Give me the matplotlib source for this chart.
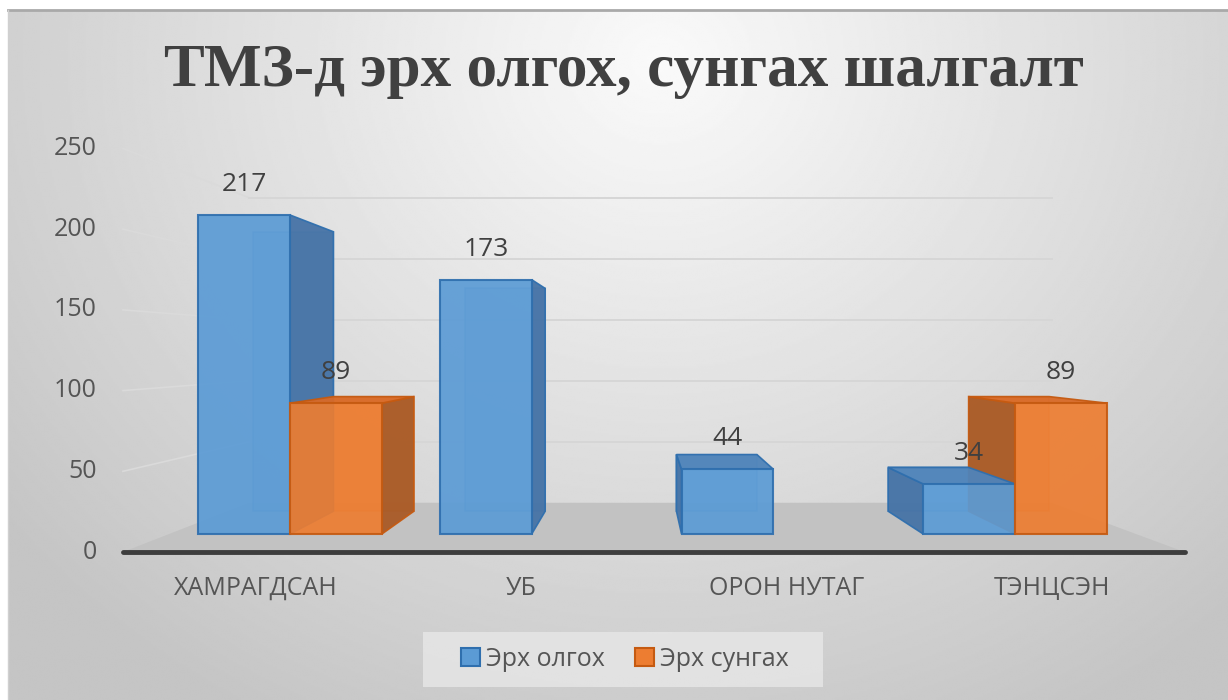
import numpy as np
import matplotlib.pyplot as plt
from matplotlib.patches import Polygon, Patch, Rectangle

# --- data ---
categories = ['ХАМРАГДСАН', 'УБ', 'ОРОН НУТАГ', 'ТЭНЦСЭН']
erkh_olgokh = [217, 173, 44, 34]
erkh_sungakh = [89, np.nan, np.nan, 89]
series_names = ['Эрх олгох', 'Эрх сунгах']
y_ticks = [0, 50, 100, 150, 200, 250]
title = 'ТМЗ-д эрх олгох, сунгах шалгалт'

# --- 3d look (one point perspective in data units) ---
W = 0.38            # bar width
XC, VC = 1.45, 125  # vanishing point
K_BACK = 0.876      # back of the bars
K_FLOOR = 1.098     # front edge of floor
K_WALL = 0.83       # back wall

blue, blue_edge, blue_side, blue_top = '#5b9bd5', '#2f6fae', '#4673a6', '#4f84ba'
orange, orange_edge, orange_side, orange_top = '#ed7d31', '#c55a11', '#a95a26', '#d96a27'
sans = ['Open Sans', 'DejaVu Sans']


def proj(x, v, k):
    return (XC + k * (x - XC), VC + k * (v - VC))


def cuboid(ax, x0, x1, v, face, edge, side, top):
    kb = K_BACK
    back = [proj(x0, 0, kb), proj(x1, 0, kb), proj(x1, v, kb), proj(x0, v, kb)]
    ax.add_patch(Polygon(back, closed=True, facecolor=face, edgecolor=edge,
                         alpha=0.35, lw=1.2, zorder=3))
    # outer side face
    if x1 <= XC:
        sx = x1
    elif x0 >= XC:
        sx = x0
    else:
        sx = None
    if sx is not None:
        pts = [proj(sx, 0, 1), proj(sx, 0, kb), proj(sx, v, kb), proj(sx, v, 1)]
        ax.add_patch(Polygon(pts, closed=True, facecolor=side, edgecolor=edge,
                             alpha=0.95, lw=1.2, zorder=4))
    # top face (only seen when below eye level)
    if v < VC:
        pts = [proj(x0, v, 1), proj(x1, v, 1), proj(x1, v, kb), proj(x0, v, kb)]
        ax.add_patch(Polygon(pts, closed=True, facecolor=top, edgecolor=edge,
                             alpha=0.95, lw=1.2, zorder=5))


fig = plt.figure(figsize=(12.28, 7), dpi=100)

# background with soft radial gradient
bg = fig.add_axes([0, 0, 1, 1], zorder=-2)
bg.set_xlim(0, 1228)
bg.set_ylim(700, 0)
bg.axis('off')
gx, gy = np.meshgrid(np.linspace(8, 1228, 600), np.linspace(10, 700, 350))
dist = np.sqrt((gx - 660) ** 2 + ((gy - 60) / 0.9) ** 2)
shade = np.clip(0.98 - dist / 800 * 0.2, 0.77, 0.98)
bg.imshow(shade, cmap='gray', vmin=0, vmax=1, extent=[8, 1228, 700, 10],
          aspect='auto', interpolation='bilinear')
bg.plot([8, 1228], [10, 10], color='#a9a9a9', lw=2)
bg.plot([8, 8], [10, 700], color='#d0d0d0', lw=1)
# legend box
bg.add_patch(Rectangle((423, 632), 400, 55, facecolor='#e9e9e9', edgecolor='none', alpha=0.75))

ax = fig.add_axes([0, 0, 1, 1])
ax.set_xlim(-290 / 241.7, (1228 - 290) / 241.7)
ax.set_ylim((534 - 700) / 1.47, 534 / 1.47)
ax.axis('off')

x = np.arange(len(categories))
x_left, x_right = -0.5, len(categories) - 0.5

# gridlines: left wall + back wall
for t in y_ticks[1:]:
    p0 = proj(x_left, t, K_FLOOR)
    p1 = proj(x_left, t, K_WALL)
    p2 = proj(x_right, t, K_WALL)
    ax.plot([p0[0], p1[0]], [p0[1], p1[1]], color='#dadada', lw=1.2, zorder=1)
    ax.plot([p1[0], p2[0]], [p1[1], p2[1]], color='#d6d6d6', lw=1.4, zorder=1)

# floor
floor = [proj(x_left, 0, K_FLOOR), proj(x_right, 0, K_FLOOR),
         proj(x_right, 0, K_WALL), proj(x_left, 0, K_WALL)]
ax.add_patch(Polygon(floor, closed=True, facecolor='#c2c2c2', edgecolor='none', zorder=2))
f0, f1 = proj(x_left, 0, K_FLOOR), proj(x_right, 0, K_FLOOR)
ax.plot([f0[0], f1[0]], [f0[1], f1[1]], color='#3d3d3d', lw=3.5,
        solid_capstyle='round', zorder=2.5)

# bars
for i in range(len(categories)):
    cuboid(ax, x[i] - W, x[i], erkh_olgokh[i], blue, blue_edge, blue_side, blue_top)
    if not np.isnan(erkh_sungakh[i]):
        cuboid(ax, x[i], x[i] + W, erkh_sungakh[i], orange, orange_edge, orange_side, orange_top)

ax.bar(x - W, erkh_olgokh, W, align='edge', color=blue, edgecolor=blue_edge,
       lw=1.5, alpha=0.92, zorder=6)
ax.bar(x, erkh_sungakh, W, align='edge', color=orange, edgecolor=orange_edge,
       lw=1.5, alpha=0.92, zorder=6)

# data labels
for i in range(len(categories)):
    ax.annotate(str(erkh_olgokh[i]), (x[i] - W / 2, erkh_olgokh[i]), xytext=(0, 22),
                textcoords='offset points', ha='center', va='center',
                fontsize=19, color='#404040', family=sans, zorder=7)
    if not np.isnan(erkh_sungakh[i]):
        ax.annotate(str(int(erkh_sungakh[i])), (x[i] + W / 2, erkh_sungakh[i]), xytext=(0, 22),
                    textcoords='offset points', ha='center', va='center',
                    fontsize=19, color='#404040', family=sans, zorder=7)

# value axis labels
for t in y_ticks:
    ax.annotate(str(t), proj(x_left, t, K_FLOOR), xytext=(-19, 0),
                textcoords='offset points', ha='right', va='center',
                fontsize=18, color='#555555', family=sans)

# category labels
for i, c in enumerate(categories):
    ax.annotate(c, proj(x[i], 0, K_FLOOR), xytext=(0, -26),
                textcoords='offset points', ha='center', va='center',
                fontsize=18, color='#555555', family=sans)

fig.text(0.508, 1 - 71 / 700, title, ha='center', va='center', fontsize=44,
         fontweight='bold', family=['Liberation Serif', 'DejaVu Serif'], color='#404040')

handles = [Patch(facecolor=blue, edgecolor=blue_edge, lw=1.5),
           Patch(facecolor=orange, edgecolor=orange_edge, lw=1.5)]
fig.legend(handles, series_names, loc='center', bbox_to_anchor=(0.509, 1 - 659.5 / 700),
           ncol=2, frameon=False, prop={'family': sans, 'size': 18},
           handlelength=0.75, handleheight=0.75, handletextpad=0.25,
           columnspacing=1.2, labelcolor='#555555')

fig.savefig('out.png', dpi=100)
